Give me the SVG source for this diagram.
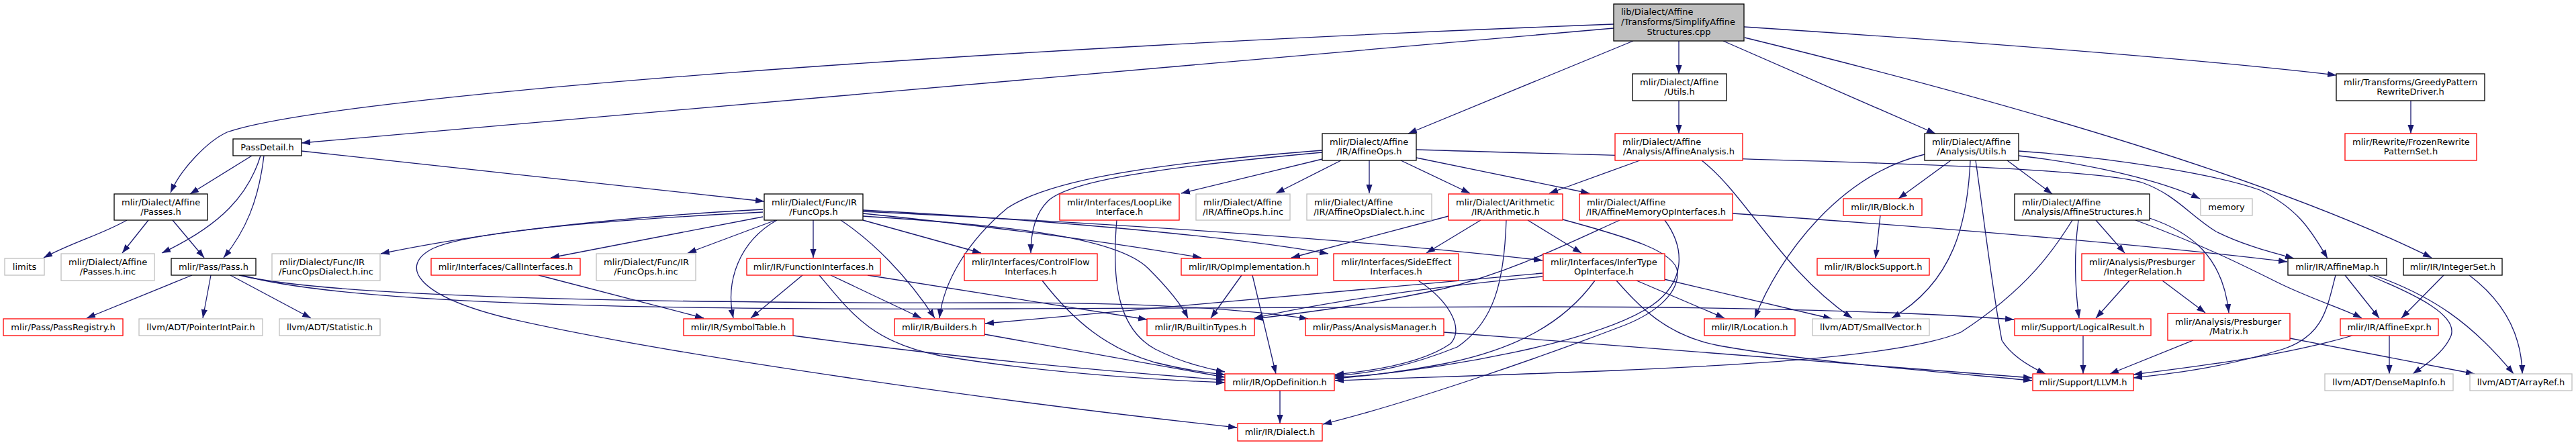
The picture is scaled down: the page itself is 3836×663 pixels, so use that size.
<svg xmlns="http://www.w3.org/2000/svg" width="3836" height="663" viewBox="0 0 3836 663">
<defs>
<marker id="a" markerWidth="14" markerHeight="10" refX="13" refY="5" orient="auto" markerUnits="userSpaceOnUse"><path d="M0,0.4 L13,5 L0,9.6 z" fill="#191970"/></marker>
</defs>
<style>
rect{stroke-width:1.3}
.blk{fill:#fff;stroke:#000}
.gry{fill:#fff;stroke:#bfbfbf}
.red{fill:#fff;stroke:#ff0000}
.main{fill:#bfbfbf;stroke:#000}
text{font-family:"DejaVu Sans",sans-serif;font-size:13px;fill:#000}
.m{text-anchor:middle}
#edges path{fill:none;stroke:#191970;stroke-width:1.3;marker-end:url(#a)}
</style>
<rect x="0" y="0" width="3836" height="663" fill="#fff"/>
<g id="edges">
<path d="M2403,42 L449,213"/>
<path d="M2403,36 C1500,70 500,140 338,197 C310,210 270,250 254,287"/>
<path d="M2432,61 L2097,199"/>
<path d="M2500,61 L2500,110"/>
<path d="M2566,61 L2882,199"/>
<path d="M2597,40 C2900,60 3250,85 3479,112"/>
<path d="M2598,56 C2900,130 3350,250 3621,384"/>
<path d="M375,232 L283,289"/>
<path d="M388,232 C370,290 330,335 241,377"/>
<path d="M393,232 C385,300 365,345 333,384"/>
<path d="M449,225 L1138,300"/>
<path d="M189,328 C150,350 110,360 65,384"/>
<path d="M221,328 L182,377"/>
<path d="M257,328 L304,384"/>
<path d="M286,410 L129,474"/>
<path d="M314,410 L302,474"/>
<path d="M343,410 L463,474"/>
<path d="M356,410 C500,445 1000,452 1500,451 C1700,451 1850,460 1948,475"/>
<path d="M360,410 C520,455 1000,462 1500,460 L2280,457 C2600,457 2850,465 2999,476"/>
<path d="M1136,323 L820,384"/>
<path d="M1155,328 L1024,377"/>
<path d="M1157,328 C1100,360 1080,420 1092,474"/>
<path d="M1211,328 L1211,384"/>
<path d="M1252,328 C1300,360 1350,410 1392,474"/>
<path d="M1285,328 L1461,377"/>
<path d="M1136,312 C950,322 750,340 567,378"/>
<path d="M1136,316 C900,328 700,345 645,370 C595,395 615,440 760,475 C1000,530 1500,600 1842,637"/>
<path d="M1285,318 C1500,340 1650,360 1789,384"/>
<path d="M1285,313 C1600,330 1850,355 1978,378"/>
<path d="M1285,315 C1700,335 2050,360 2297,388"/>
<path d="M1285,322 C1480,335 1660,350 1710,400 C1740,430 1760,455 1769,474"/>
<path d="M1969,237 L1759,288"/>
<path d="M1997,239 L1900,288"/>
<path d="M2039,239 L2039,288"/>
<path d="M2086,239 L2189,288"/>
<path d="M2109,235 L2367,288"/>
<path d="M2109,223 C2600,238 3100,245 3190,272 C3240,290 3260,320 3300,345 C3340,365 3380,375 3416,385"/>
<path d="M3006,225 C3150,235 3300,260 3365,283 C3420,310 3440,340 3466,385"/>
<path d="M3006,232 C3120,245 3220,270 3276,296"/>
<path d="M2989,239 L3056,289"/>
<path d="M2905,239 L2827,296"/>
<path d="M2934,239 C2930,330 2910,420 2817,474"/>
<path d="M2942,239 C2955,330 2965,420 2981,507 C2995,530 3020,545 3046,557"/>
<path d="M2866,230 C2740,260 2650,380 2613,474"/>
<path d="M2500,150 L2500,199"/>
<path d="M2442,239 L2307,288"/>
<path d="M2534,239 C2600,290 2650,400 2758,474"/>
<path d="M2157,322 L1923,384"/>
<path d="M2205,328 L2124,377"/>
<path d="M2243,328 C2240,420 2225,480 2170,517 C2100,545 2050,555 1988,560"/>
<path d="M2275,328 L2355,377"/>
<path d="M2327,327 C2430,355 2495,375 2498,405 C2500,440 2460,470 2410,488 C2300,530 2100,600 1970,632"/>
<path d="M2412,328 C2330,365 2250,405 2150,430 C2050,452 1950,465 1868,475"/>
<path d="M2479,328 C2510,370 2510,420 2460,455 C2380,510 2150,550 1988,564"/>
<path d="M2580,318 C2900,340 3200,365 3406,390"/>
<path d="M2112,418 C2160,450 2180,490 2160,512 C2120,540 2050,552 1988,558"/>
<path d="M2297,407 L1467,482"/>
<path d="M2297,412 C2100,430 1950,455 1868,474"/>
<path d="M2375,418 C2330,480 2260,520 2150,542 C2080,555 2040,560 1988,562"/>
<path d="M2437,418 L2568,474"/>
<path d="M2478,416 L2728,475"/>
<path d="M2407,418 C2440,455 2480,500 2560,515 C2700,540 2900,555 3026,567"/>
<path d="M1849,410 L1803,474"/>
<path d="M1865,410 L1900,557"/>
<path d="M1906,582 L1906,631"/>
<path d="M1663,328 C1655,420 1665,490 1720,520 C1755,538 1790,548 1824,554"/>
<path d="M1552,418 C1600,480 1650,520 1720,540 C1760,550 1790,555 1824,558"/>
<path d="M1466,498 L1824,562"/>
<path d="M1181,500 C1400,530 1600,550 1824,566"/>
<path d="M1220,410 C1270,470 1300,510 1400,530 C1550,555 1700,565 1824,570"/>
<path d="M1195,410 L1118,474"/>
<path d="M1237,410 L1372,474"/>
<path d="M1292,410 L1708,476"/>
<path d="M802,410 L1048,474"/>
<path d="M2150,495 C2500,520 2800,545 3026,563"/>
<path d="M3086,328 C3060,370 3020,430 2920,495 C2800,545 2400,552 1988,567"/>
<path d="M3095,328 C3088,380 3090,430 3096,474"/>
<path d="M3121,328 L3164,377"/>
<path d="M3201,325 C3260,345 3310,380 3319,466"/>
<path d="M3180,328 C3280,365 3340,395 3390,420 C3440,445 3490,460 3517,474"/>
<path d="M3171,418 L3121,474"/>
<path d="M3220,418 L3284,466"/>
<path d="M3102,500 L3102,557"/>
<path d="M3266,507 L3142,557"/>
<path d="M3410,504 L3685,557"/>
<path d="M3503,500 C3400,530 3280,545 3177,558"/>
<path d="M3558,500 L3558,557"/>
<path d="M3478,410 C3465,460 3460,500 3400,520 C3320,545 3250,555 3177,563"/>
<path d="M3492,410 L3543,474"/>
<path d="M3527,410 C3600,440 3660,470 3650,500 C3640,525 3610,545 3593,557"/>
<path d="M3535,410 C3620,440 3680,480 3743,557"/>
<path d="M3639,410 L3576,474"/>
<path d="M3677,410 C3730,450 3755,500 3756,557"/>
<path d="M2800,321 L2793,385"/>
<path d="M3590,150 L3590,199"/>
<path d="M1969,224 C1700,245 1560,270 1500,310 C1440,360 1405,420 1399,474"/>
<path d="M1969,227 C1720,250 1590,270 1560,300 C1540,320 1535,350 1535,377"/>
</g>
<g id="n1"><rect class="main" x="2403" y="6" width="194" height="55"/><text x="2414" y="22">lib/Dialect/Affine</text><text x="2414" y="37">/Transforms/SimplifyAffine</text><text class="m" x="2500" y="52">Structures.cpp</text></g>
<g id="n2"><rect class="blk" x="170" y="289" width="139" height="39"/><text x="181" y="305.5">mlir/Dialect/Affine</text><text class="m" x="239.5" y="320">/Passes.h</text></g>
<g id="n3"><rect class="blk" x="347" y="207" width="102" height="25"/><text class="m" x="398" y="224">PassDetail.h</text></g>
<g id="n4"><rect class="gry" x="7" y="385" width="59" height="25"/><text class="m" x="36.5" y="402">limits</text></g>
<g id="n5"><rect class="gry" x="91" y="378" width="139" height="40"/><text x="102" y="394.5">mlir/Dialect/Affine</text><text class="m" x="160.5" y="409">/Passes.h.inc</text></g>
<g id="n6"><rect class="blk" x="255" y="385" width="126" height="25"/><text class="m" x="318" y="402">mlir/Pass/Pass.h</text></g>
<g id="n7"><rect class="gry" x="405" y="378" width="161" height="40"/><text x="416" y="394.5">mlir/Dialect/Func/IR</text><text class="m" x="485.5" y="409">/FuncOpsDialect.h.inc</text></g>
<g id="n8"><rect class="red" x="642" y="385" width="222" height="25"/><text class="m" x="753" y="402">mlir/Interfaces/CallInterfaces.h</text></g>
<g id="n9"><rect class="red" x="5" y="475" width="178" height="25"/><text class="m" x="94" y="492">mlir/Pass/PassRegistry.h</text></g>
<g id="n10"><rect class="gry" x="207" y="475" width="184" height="25"/><text class="m" x="299" y="492">llvm/ADT/PointerIntPair.h</text></g>
<g id="n11"><rect class="gry" x="416" y="475" width="150" height="25"/><text class="m" x="491" y="492">llvm/ADT/Statistic.h</text></g>
<g id="n12"><rect class="blk" x="1138" y="289" width="147" height="39"/><text x="1149" y="305.5">mlir/Dialect/Func/IR</text><text class="m" x="1211.5" y="320">/FuncOps.h</text></g>
<g id="n13"><rect class="gry" x="888" y="378" width="148" height="40"/><text x="899" y="394.5">mlir/Dialect/Func/IR</text><text class="m" x="962" y="409">/FuncOps.h.inc</text></g>
<g id="n14"><rect class="red" x="1112" y="385" width="199" height="25"/><text class="m" x="1211.5" y="402">mlir/IR/FunctionInterfaces.h</text></g>
<g id="n15"><rect class="red" x="1436" y="378" width="198" height="40"/><text x="1447" y="394.5">mlir/Interfaces/ControlFlow</text><text class="m" x="1535" y="409">Interfaces.h</text></g>
<g id="n16"><rect class="red" x="1018" y="475" width="163" height="25"/><text class="m" x="1099.5" y="492">mlir/IR/SymbolTable.h</text></g>
<g id="n17"><rect class="red" x="1332" y="475" width="134" height="25"/><text class="m" x="1399" y="492">mlir/IR/Builders.h</text></g>
<g id="n18"><rect class="blk" x="1969" y="199" width="140" height="40"/><text x="1980" y="215.5">mlir/Dialect/Affine</text><text class="m" x="2039" y="230">/IR/AffineOps.h</text></g>
<g id="n19"><rect class="red" x="1578" y="289" width="178" height="39"/><text x="1589" y="305.5">mlir/Interfaces/LoopLike</text><text class="m" x="1667" y="320">Interface.h</text></g>
<g id="n20"><rect class="gry" x="1781" y="289" width="140" height="39"/><text x="1792" y="305.5">mlir/Dialect/Affine</text><text class="m" x="1851" y="320">/IR/AffineOps.h.inc</text></g>
<g id="n21"><rect class="gry" x="1946" y="289" width="186" height="39"/><text x="1957" y="305.5">mlir/Dialect/Affine</text><text class="m" x="2039" y="320">/IR/AffineOpsDialect.h.inc</text></g>
<g id="n22"><rect class="red" x="2157" y="289" width="170" height="39"/><text x="2168" y="305.5">mlir/Dialect/Arithmetic</text><text class="m" x="2242" y="320">/IR/Arithmetic.h</text></g>
<g id="n23"><rect class="red" x="1759" y="385" width="203" height="25"/><text class="m" x="1860.5" y="402">mlir/IR/OpImplementation.h</text></g>
<g id="n24"><rect class="red" x="1986" y="378" width="186" height="40"/><text x="1997" y="394.5">mlir/Interfaces/SideEffect</text><text class="m" x="2079" y="409">Interfaces.h</text></g>
<g id="n25"><rect class="red" x="2298" y="378" width="181" height="40"/><text x="2309" y="394.5">mlir/Interfaces/InferType</text><text class="m" x="2388.5" y="409">OpInterface.h</text></g>
<g id="n26"><rect class="red" x="1708" y="475" width="160" height="25"/><text class="m" x="1788" y="492">mlir/IR/BuiltinTypes.h</text></g>
<g id="n27"><rect class="red" x="1944" y="475" width="206" height="25"/><text class="m" x="2047" y="492">mlir/Pass/AnalysisManager.h</text></g>
<g id="n28"><rect class="red" x="1824" y="557" width="163" height="25"/><text class="m" x="1905.5" y="574">mlir/IR/OpDefinition.h</text></g>
<g id="n29"><rect class="red" x="1843" y="631" width="126" height="26"/><text class="m" x="1906" y="648">mlir/IR/Dialect.h</text></g>
<g id="n30"><rect class="blk" x="2431" y="110" width="140" height="40"/><text x="2442" y="126.5">mlir/Dialect/Affine</text><text class="m" x="2501" y="141">/Utils.h</text></g>
<g id="n31"><rect class="red" x="2405" y="199" width="190" height="40"/><text x="2416" y="215.5">mlir/Dialect/Affine</text><text class="m" x="2500" y="230">/Analysis/AffineAnalysis.h</text></g>
<g id="n32"><rect class="blk" x="2866" y="199" width="140" height="40"/><text x="2877" y="215.5">mlir/Dialect/Affine</text><text class="m" x="2936" y="230">/Analysis/Utils.h</text></g>
<g id="n33"><rect class="red" x="2352" y="289" width="228" height="39"/><text x="2363" y="305.5">mlir/Dialect/Affine</text><text class="m" x="2466" y="320">/IR/AffineMemoryOpInterfaces.h</text></g>
<g id="n34"><rect class="red" x="2745" y="296" width="117" height="25"/><text class="m" x="2803.5" y="313">mlir/IR/Block.h</text></g>
<g id="n35"><rect class="blk" x="3000" y="289" width="201" height="39"/><text x="3011" y="305.5">mlir/Dialect/Affine</text><text class="m" x="3100.5" y="320">/Analysis/AffineStructures.h</text></g>
<g id="n36"><rect class="red" x="2706" y="385" width="167" height="25"/><text class="m" x="2789.5" y="402">mlir/IR/BlockSupport.h</text></g>
<g id="n37"><rect class="red" x="2538" y="475" width="135" height="25"/><text class="m" x="2605.5" y="492">mlir/IR/Location.h</text></g>
<g id="n38"><rect class="gry" x="2699" y="475" width="174" height="25"/><text class="m" x="2786" y="492">llvm/ADT/SmallVector.h</text></g>
<g id="n39"><rect class="red" x="3000" y="475" width="203" height="25"/><text class="m" x="3101.5" y="492">mlir/Support/LogicalResult.h</text></g>
<g id="n40"><rect class="red" x="3027" y="557" width="150" height="25"/><text class="m" x="3102" y="574">mlir/Support/LLVM.h</text></g>
<g id="n41"><rect class="gry" x="3277" y="296" width="77" height="25"/><text class="m" x="3315.5" y="313">memory</text></g>
<g id="n42"><rect class="blk" x="3479" y="110" width="221" height="40"/><text x="3490" y="126.5">mlir/Transforms/GreedyPattern</text><text class="m" x="3589.5" y="141">RewriteDriver.h</text></g>
<g id="n43"><rect class="red" x="3492" y="199" width="196" height="40"/><text x="3503" y="215.5">mlir/Rewrite/FrozenRewrite</text><text class="m" x="3590" y="230">PatternSet.h</text></g>
<g id="n44"><rect class="red" x="3100" y="378" width="182" height="40"/><text x="3111" y="394.5">mlir/Analysis/Presburger</text><text class="m" x="3191" y="409">/IntegerRelation.h</text></g>
<g id="n45"><rect class="blk" x="3407" y="385" width="147" height="25"/><text class="m" x="3480.5" y="402">mlir/IR/AffineMap.h</text></g>
<g id="n46"><rect class="blk" x="3579" y="385" width="147" height="25"/><text class="m" x="3652.5" y="402">mlir/IR/IntegerSet.h</text></g>
<g id="n47"><rect class="red" x="3228" y="467" width="182" height="40"/><text x="3239" y="483.5">mlir/Analysis/Presburger</text><text class="m" x="3319" y="498">/Matrix.h</text></g>
<g id="n48"><rect class="red" x="3485" y="475" width="146" height="25"/><text class="m" x="3558" y="492">mlir/IR/AffineExpr.h</text></g>
<g id="n49"><rect class="gry" x="3462" y="557" width="191" height="25"/><text class="m" x="3557.5" y="574">llvm/ADT/DenseMapInfo.h</text></g>
<g id="n50"><rect class="gry" x="3678" y="557" width="152" height="25"/><text class="m" x="3754" y="574">llvm/ADT/ArrayRef.h</text></g>
</svg>
